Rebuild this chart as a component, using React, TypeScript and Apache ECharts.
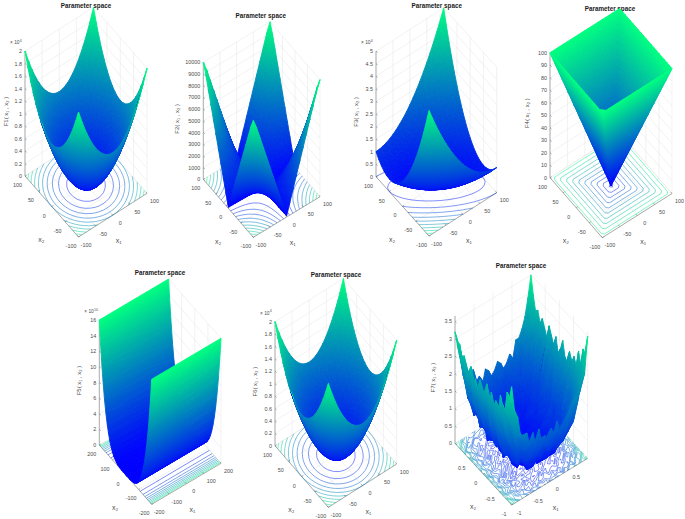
import React, { useEffect, useRef } from "react";
import * as echarts from "echarts";

// ---------- values ----------
const F1_QUADRANT = [
  [0, .01, .04, .09, .16, .25, .36, .49, .64, .81, 1],
  [.01, .02, .05, .10, .17, .26, .37, .50, .65, .82, 1.01],
  [.04, .05, .08, .13, .20, .29, .40, .53, .68, .85, 1.04],
  [.09, .10, .13, .18, .25, .34, .45, .58, .73, .90, 1.09],
  [.16, .17, .20, .25, .32, .41, .52, .65, .80, .97, 1.16],
  [.25, .26, .29, .34, .41, .50, .61, .74, .89, 1.06, 1.25],
  [.36, .37, .40, .45, .52, .61, .72, .85, 1.00, 1.17, 1.36],
  [.49, .50, .53, .58, .65, .74, .85, .98, 1.13, 1.30, 1.49],
  [.64, .65, .68, .73, .80, .89, 1.00, 1.13, 1.28, 1.45, 1.64],
  [.81, .82, .85, .90, .97, 1.06, 1.17, 1.30, 1.45, 1.62, 1.81],
  [1, 1.01, 1.04, 1.09, 1.16, 1.25, 1.36, 1.49, 1.64, 1.81, 2],
];
const F6_QUADRANT = F1_QUADRANT;
const F2_QUADRANT = [
  [0, 10, 20, 30, 40, 50, 60, 70, 80, 90, 100],
  [10, 120, 230, 340, 450, 560, 670, 780, 890, 1000, 1110],
  [20, 230, 440, 650, 860, 1070, 1280, 1490, 1700, 1910, 2120],
  [30, 340, 650, 960, 1270, 1580, 1890, 2200, 2510, 2820, 3130],
  [40, 450, 860, 1270, 1680, 2090, 2500, 2910, 3320, 3730, 4140],
  [50, 560, 1070, 1580, 2090, 2600, 3110, 3620, 4130, 4640, 5150],
  [60, 670, 1280, 1890, 2500, 3110, 3720, 4330, 4940, 5550, 6160],
  [70, 780, 1490, 2200, 2910, 3620, 4330, 5040, 5750, 6460, 7170],
  [80, 890, 1700, 2510, 3320, 4130, 4940, 5750, 6560, 7370, 8180],
  [90, 1000, 1910, 2820, 3730, 4640, 5550, 6460, 7370, 8280, 9190],
  [100, 1110, 2120, 3130, 4140, 5150, 6160, 7170, 8180, 9190, 10000],
];
const F4_QUADRANT = [
  [0, 10, 20, 30, 40, 50, 60, 70, 80, 90, 100],
  [10, 10, 20, 30, 40, 50, 60, 70, 80, 90, 100],
  [20, 20, 20, 30, 40, 50, 60, 70, 80, 90, 100],
  [30, 30, 30, 30, 40, 50, 60, 70, 80, 90, 100],
  [40, 40, 40, 40, 40, 50, 60, 70, 80, 90, 100],
  [50, 50, 50, 50, 50, 50, 60, 70, 80, 90, 100],
  [60, 60, 60, 60, 60, 60, 60, 70, 80, 90, 100],
  [70, 70, 70, 70, 70, 70, 70, 70, 80, 90, 100],
  [80, 80, 80, 80, 80, 80, 80, 80, 80, 90, 100],
  [90, 90, 90, 90, 90, 90, 90, 90, 90, 90, 100],
  [100, 100, 100, 100, 100, 100, 100, 100, 100, 100, 100],
];
// rows x2 = -100..0, columns x1 = -100..100; the other half repeats through the centre
const F3_HALF = [
  [5.00, 4.61, 4.24, 3.89, 3.56, 3.25, 2.96, 2.69, 2.44, 2.21, 2.00, 1.81, 1.64, 1.49, 1.36, 1.25, 1.16, 1.09, 1.04, 1.01, 1.00],
  [4.42, 4.05, 3.70, 3.37, 3.06, 2.77, 2.50, 2.25, 2.02, 1.81, 1.62, 1.45, 1.30, 1.17, 1.06, .97, .90, .85, .82, .81, .82],
  [3.88, 3.53, 3.20, 2.89, 2.60, 2.33, 2.08, 1.85, 1.64, 1.45, 1.28, 1.13, 1.00, .89, .80, .73, .68, .65, .64, .65, .68],
  [3.38, 3.05, 2.74, 2.45, 2.18, 1.93, 1.70, 1.49, 1.30, 1.13, .98, .85, .74, .65, .58, .53, .50, .49, .50, .53, .58],
  [2.92, 2.61, 2.32, 2.05, 1.80, 1.57, 1.36, 1.17, 1.00, .85, .72, .61, .52, .45, .40, .37, .36, .37, .40, .45, .52],
  [2.50, 2.21, 1.94, 1.69, 1.46, 1.25, 1.06, .89, .74, .61, .50, .41, .34, .29, .26, .25, .26, .29, .34, .41, .50],
  [2.12, 1.85, 1.60, 1.37, 1.16, .97, .80, .65, .52, .41, .32, .25, .20, .17, .16, .17, .20, .25, .32, .41, .52],
  [1.78, 1.53, 1.30, 1.09, .90, .73, .58, .45, .34, .25, .18, .13, .10, .09, .10, .13, .18, .25, .34, .45, .58],
  [1.48, 1.25, 1.04, .85, .68, .53, .40, .29, .20, .13, .08, .05, .04, .05, .08, .13, .20, .29, .40, .53, .68],
  [1.22, 1.01, .82, .65, .50, .37, .26, .17, .10, .05, .02, .01, .02, .05, .10, .17, .26, .37, .50, .65, .82],
  [1.00, .81, .64, .49, .36, .25, .16, .09, .04, .01, 0, .01, .04, .09, .16, .25, .36, .49, .64, .81, 1.00],
];
// F5 against |x2| = 0, 10, ... 200
const F5_PROFILE = [0, .0001, .0016, .0081, .0256, .0625, .1296, .2401, .4096, .6561, 1, 1.4641, 2.0736, 2.8561, 3.8416, 5.0625, 6.5536, 8.3521, 10.4976, 13.0321, 16];
// F7, in tenths, rows x1 = -1..1, columns x2 = -1..1
const F7_TENTHS = [
  [34,30,31,25,26,28,22,25,23,26,22,27,24,21,26,23,25,22,27,25,22,28,26,30,29,32],
  [26,27,22,22,17,19,22,16,19,17,20,15,18,21,16,19,17,20,16,19,22,17,22,22,27,28],
  [24,18,20,20,14,17,14,15,11,17,14,12,16,13,15,11,16,12,14,18,14,17,14,21,19,25],
  [18,19,14,16,12,15,12,8,12,9,13,10,8,12,14,9,11,13,8,11,13,11,16,13,18,20],
  [17,17,13,8,11,7,12,7,10,5,8,11,6,9,7,10,5,8,11,7,10,9,8,15,15,16],
  [18,12,15,9,6,10,8,5,8,10,4,7,9,5,8,6,10,4,7,10,6,10,9,9,17,17],
  [14,13,8,11,7,8,5,9,3,6,8,5,7,3,6,9,4,7,5,4,9,8,7,12,12,18],
  [17,9,10,6,10,5,7,2,7,3,5,8,2,6,4,3,7,5,2,7,5,9,8,9,13,14],
  [13,12,7,9,3,5,8,3,2,5,1,6,3,4,2,7,1,5,3,7,3,6,4,12,10,15],
  [17,9,10,4,6,7,3,4,1,3,6,2,5,1,3,1,4,2,6,3,5,3,8,8,13,12],
  [12,13,8,7,3,6,4,1,5,2,1,4,2,6,1,3,2,5,1,5,7,4,6,6,11,16],
  [14,10,6,8,4,4,7,2,1,4,2,1,3,1,5,2,1,3,4,2,4,7,5,9,8,15],
  [11,12,8,5,8,2,3,4,2,1,3,1,1,2,1,4,2,1,2,6,2,5,9,7,12,13],
  [15,8,9,9,3,4,3,1,3,2,1,2,1,1,3,1,2,4,1,3,5,3,6,10,8,14],
  [13,11,7,4,6,3,6,2,1,1,4,1,2,3,1,2,1,2,3,2,3,8,4,7,11,16],
  [16,9,10,6,4,5,2,3,4,2,1,3,1,2,1,1,4,1,2,6,2,4,7,6,10,15],
  [12,12,6,7,5,2,5,1,2,5,2,1,4,1,3,2,1,3,5,2,4,3,5,10,8,13],
  [14,8,11,5,3,6,3,6,1,3,1,4,2,5,1,3,6,1,2,5,2,7,6,7,13,14],
  [12,14,8,9,7,3,5,3,6,2,7,3,4,2,5,7,3,6,2,5,8,5,8,12,10,16],
  [17,11,11,6,10,6,8,3,5,8,4,7,3,8,4,3,7,5,6,5,8,5,11,10,14,14],
  [16,17,9,10,7,9,5,9,5,7,10,4,8,6,9,5,7,10,4,9,6,11,9,9,14,19],
  [20,12,14,10,13,7,9,5,10,7,5,9,6,10,7,11,5,8,10,7,10,9,14,13,12,19],
  [19,19,15,16,10,12,15,10,8,12,9,13,11,8,14,9,12,10,8,14,10,13,11,17,17,21],
  [24,19,21,14,17,14,13,16,14,11,15,12,17,13,11,16,12,15,13,12,17,14,18,18,23,24],
  [25,26,21,21,23,16,18,19,16,20,15,18,17,20,16,19,15,21,17,19,16,21,19,25,22,29],
  [35,29,30,24,28,23,25,23,25,21,22,26,23,21,25,22,24,26,22,24,26,24,27,26,30,35],
];

const TITLE = "Parameter space";
const TICKS_100 = [-100, -50, 0, 50, 100];
const TICKS_200 = [-200, -100, 0, 100, 200];
const TICKS_1 = [-1, -0.5, 0, 0.5];
const Z_TICKS_F1 = [0, 0.2, 0.4, 0.6, 0.8, 1, 1.2, 1.4, 1.6, 1.8, 2];
const Z_TICKS_F2 = [0, 1000, 2000, 3000, 4000, 5000, 6000, 7000, 8000, 9000, 10000];
const Z_TICKS_F3 = [0, 0.5, 1, 1.5, 2, 2.5, 3, 3.5, 4, 4.5, 5];
const Z_TICKS_F4 = [0, 10, 20, 30, 40, 50, 60, 70, 80, 90, 100];
const Z_TICKS_F5 = [0, 2, 4, 6, 8, 10, 12, 14, 16];
const Z_TICKS_F7 = [0, 0.5, 1, 1.5, 2, 2.5, 3, 3.5];
const LEVELS_F1 = [0.2, 0.4, 0.6, 0.8, 1, 1.2, 1.4, 1.6, 1.8];
const LEVELS_F2 = [1000, 2000, 3000, 4000, 5000, 6000, 7000, 8000, 9000];
const LEVELS_F3 = [0.5, 1, 1.5, 2, 2.5, 3, 3.5, 4, 4.5];
const LEVELS_F4 = [5, 15, 25, 35, 45, 55, 65, 75, 85, 95];
const LEVELS_F5 = [1.6, 3.2, 4.8, 6.4, 8, 9.6, 11.2, 12.8, 14.4];
const LEVELS_F7 = [0.15, 0.35, 0.55, 0.75, 0.95, 1.15, 1.35, 1.55, 1.75, 1.95, 2.15, 2.35, 2.55, 2.75, 2.95, 3.15];

// ---------- grids ----------
const range = (a: number, b: number, n: number) => Array.from({ length: n }, (_, i) => a + ((b - a) * i) / (n - 1));
const mirror = (q: number[][]) => {
  const r: number[][] = [];
  for (let i = -10; i <= 10; i++) {
    const row: number[] = [];
    for (let j = -10; j <= 10; j++) row.push(q[Math.abs(i)][Math.abs(j)]);
    r.push(row);
  }
  return r;
};
const pointFlip = (h: number[][]) => {
  const r = h.map((row) => row.slice());
  for (let i = h.length - 2; i >= 0; i--) r.push(h[i].slice().reverse());
  return r;
};
const transpose = (m: number[][]) => m[0].map((_, j) => m.map((row) => row[j]));
const profile = () => {
  const col: number[] = [];
  for (let k = -20; k <= 20; k++) col.push(F5_PROFILE[Math.abs(k)]);
  return [col, col];
};

type Pt = [number, number];
interface Panel {
  id: string; xs: number[]; ys: number[]; z: number[][]; levels: number[];
  xTicks: number[]; yTicks: number[]; zTicks: number[]; zTop: number; zColor: number;
  front: Pt; left: Pt; right: Pt; zH: number; title: Pt; nameX: number; exp: string;
}
const R100 = range(-100, 100, 21);
const PANELS: Panel[] = [
  { id: "F1", xs: R100, ys: R100, z: mirror(F1_QUADRANT), levels: LEVELS_F1, xTicks: TICKS_100, yTicks: TICKS_100, zTicks: Z_TICKS_F1, zTop: 2, zColor: 2,
    front: [78.5, 237], left: [25, 176], right: [147, 193.3], zH: 125, title: [86, 5], nameX: 5.5, exp: "4" },
  { id: "F2", xs: R100, ys: R100, z: mirror(F2_QUADRANT), levels: LEVELS_F2, xTicks: TICKS_100, yTicks: TICKS_100, zTicks: Z_TICKS_F2, zTop: 10000, zColor: 10000,
    front: [253.3, 237.3], left: [203.3, 179.3], right: [320, 196.7], zH: 117, title: [260.7, 15.7], nameX: 177, exp: "" },
  { id: "F3", xs: R100, ys: R100, z: transpose(pointFlip(F3_HALF)), levels: LEVELS_F3, xTicks: TICKS_100, yTicks: TICKS_100, zTicks: Z_TICKS_F3, zTop: 5, zColor: 5,
    front: [429, 236], left: [376, 176.7], right: [496.7, 192.7], zH: 125.6, title: [436.7, 5], nameX: 356, exp: "4" },
  { id: "F4", xs: R100, ys: R100, z: mirror(F4_QUADRANT), levels: LEVELS_F4, xTicks: TICKS_100, yTicks: TICKS_100, zTicks: Z_TICKS_F4, zTop: 100, zColor: 100,
    front: [602.3, 237.7], left: [550, 177.7], right: [672, 193.5], zH: 125, title: [610, 8], nameX: 527.3, exp: "" },
  { id: "F5", xs: [-200, 200], ys: range(-200, 200, 41), z: profile(), levels: LEVELS_F5, xTicks: TICKS_200, yTicks: TICKS_200, zTicks: Z_TICKS_F5, zTop: 16, zColor: 16,
    front: [151.7, 504.3], left: [99.3, 445], right: [221, 463.3], zH: 125, title: [160, 272], nameX: 79.3, exp: "10" },
  { id: "F6", xs: R100, ys: R100, z: mirror(F6_QUADRANT), levels: LEVELS_F1, xTicks: TICKS_100, yTicks: TICKS_100, zTicks: Z_TICKS_F1, zTop: 2, zColor: 2,
    front: [328.3, 507.3], left: [275, 445.7], right: [396.7, 464], zH: 124, title: [336, 274], nameX: 254.7, exp: "4" },
  { id: "F7", xs: range(-1, 1, 26), ys: range(-1, 1, 26), z: F7_TENTHS.map((r) => r.map((v) => v / 10)), levels: LEVELS_F7, xTicks: TICKS_1, yTicks: TICKS_1, zTicks: Z_TICKS_F7, zTop: 3.66, zColor: 3.7,
    front: [511.7, 505], left: [455, 443.3], right: [587.7, 458.3], zH: 127.4, title: [521, 265], nameX: 433.3, exp: "" },
];

// ---------- projection and colour (MATLAB "winter") ----------
const winter = (t: number) => {
  const c = Math.max(0, Math.min(1, t));
  return `rgb(0,${Math.round(255 * c)},${Math.round(255 * (1 - c / 2))})`;
};
const FONT = '"Liberation Sans", "DejaVu Sans", Arial, sans-serif';
const makeProject = (p: Panel) => {
  const x0 = p.xs[0], x1 = p.xs[p.xs.length - 1], y0 = p.ys[0], y1 = p.ys[p.ys.length - 1];
  return (a: number, b: number, z: number): Pt => {
    const u = (a - x0) / (x1 - x0), v = (b - y0) / (y1 - y0);
    return [
      p.front[0] + u * (p.right[0] - p.front[0]) + v * (p.left[0] - p.front[0]),
      p.front[1] + u * (p.right[1] - p.front[1]) + v * (p.left[1] - p.front[1]) - (z / p.zTop) * p.zH,
    ];
  };
};

const surfaceSeries = (p: Panel) => {
  const pr = makeProject(p);
  const tris: number[][][] = [];
  const v = (i: number, j: number) => [p.xs[i], p.ys[j], p.z[i][j]];
  for (let i = p.xs.length - 2; i >= 0; i--) {
    for (let j = p.ys.length - 2; j >= 0; j--) {
      tris.push([v(i + 1, j + 1), v(i + 1, j), v(i, j + 1)]);
      tris.push([v(i + 1, j), v(i, j + 1), v(i, j)]);
    }
  }
  const stops = [{ offset: 0, color: winter(0) }, { offset: 1, color: winter(1) }];
  return {
    type: "custom", name: p.id, coordinateSystem: "cartesian2d", silent: true, progressive: 0,
    data: tris.map(() => [0, 0]),
    renderItem: (params: any, api: any) => {
      const t = tris[params.dataIndex];
      const pts = t.map((q) => api.coord(pr(q[0], q[1], q[2])));
      const c = t.map((q) => q[2] / p.zColor);
      const dx1 = pts[1][0] - pts[0][0], dy1 = pts[1][1] - pts[0][1];
      const dx2 = pts[2][0] - pts[0][0], dy2 = pts[2][1] - pts[0][1];
      const det = dx1 * dy2 - dx2 * dy1;
      const d1 = c[1] - c[0], d2 = c[2] - c[0];
      let fill: any = winter((c[0] + c[1] + c[2]) / 3);
      if (Math.abs(det) > 1e-3) {
        const gx = (d1 * dy2 - d2 * dy1) / det, gy = (dx1 * d2 - dx2 * d1) / det;
        const g2 = gx * gx + gy * gy;
        if (g2 > 1e-9) {
          const ax = pts[0][0] - (gx * c[0]) / g2, ay = pts[0][1] - (gy * c[0]) / g2;
          fill = new echarts.graphic.LinearGradient(ax, ay, ax + gx / g2, ay + gy / g2, stops, true);
        }
      }
      return { type: "polygon", shape: { points: pts }, style: { fill, stroke: fill, lineWidth: 0.9, lineJoin: "round" } };
    },
  };
};

const contourPath = (p: Panel, level: number, api: any) => {
  const pr = makeProject(p);
  let d = "";
  const cross = (a: number, b: number) => (level - a) / (b - a);
  for (let i = 0; i < p.xs.length - 1; i++) {
    for (let j = 0; j < p.ys.length - 1; j++) {
      const a = p.z[i][j], b = p.z[i + 1][j], c = p.z[i + 1][j + 1], e = p.z[i][j + 1];
      const x0 = p.xs[i], x1 = p.xs[i + 1], y0 = p.ys[j], y1 = p.ys[j + 1];
      const hit: Pt[] = [];
      if (a >= level !== b >= level) hit.push([x0 + cross(a, b) * (x1 - x0), y0]);
      if (b >= level !== c >= level) hit.push([x1, y0 + cross(b, c) * (y1 - y0)]);
      if (c >= level !== e >= level) hit.push([x1 + cross(c, e) * (x0 - x1), y1]);
      if (e >= level !== a >= level) hit.push([x0, y1 + cross(e, a) * (y0 - y1)]);
      for (let k = 0; k + 1 < hit.length; k += 2) {
        const s = api.coord(pr(hit[k][0], hit[k][1], 0));
        const t = api.coord(pr(hit[k + 1][0], hit[k + 1][1], 0));
        d += `M${s[0].toFixed(2)} ${s[1].toFixed(2)}L${t[0].toFixed(2)} ${t[1].toFixed(2)}`;
      }
    }
  }
  return d || "M0 0";
};

const contourSeries = (p: Panel) => ({
  type: "custom", name: p.id + " contours", coordinateSystem: "cartesian2d", silent: true, progressive: 0,
  data: p.levels.map(() => [0, 0]),
  renderItem: (params: any, api: any) => {
    const level = p.levels[params.dataIndex];
    return {
      type: "path", shape: { pathData: contourPath(p, level, api) },
      style: { fill: "none", stroke: winter(level / p.zColor), lineWidth: 0.5 },
    };
  },
});

const frameSeries = (p: Panel) => {
  const pr = makeProject(p);
  const xa = p.xs[0], xb = p.xs[p.xs.length - 1], ya = p.ys[0], yb = p.ys[p.ys.length - 1];
  return {
    type: "custom", name: p.id + " axes", coordinateSystem: "cartesian2d", silent: true, progressive: 0,
    data: [[0, 0]],
    renderItem: (_: any, api: any) => {
      const P = (a: number, b: number, z: number) => api.coord(pr(a, b, z));
      const seg = (s: number[], t: number[]) => `M${s[0].toFixed(2)} ${s[1].toFixed(2)}L${t[0].toFixed(2)} ${t[1].toFixed(2)}`;
      let grid = "", axes = "";
      const children: any[] = [];
      const txt = (text: string, x: number, y: number, fontSize: number, extra: any = {}, el: any = {}) =>
        children.push({ type: "text", x, y, ...el, style: { text, fontSize, fontFamily: FONT, fill: "#4d4d4d", align: "center", verticalAlign: "middle", ...extra } });
      for (const z of p.zTicks) {
        grid += seg(P(xa, yb, z), P(xb, yb, z)) + seg(P(xb, yb, z), P(xb, ya, z));
        const s = P(xa, yb, z);
        axes += seg(s, [s[0] + 1.6, s[1] + 1.3]);
        txt(String(z), s[0] - 3, s[1], 5.4, { align: "right" });
      }
      for (const t of p.xTicks) {
        grid += seg(P(t, yb, 0), P(t, yb, p.zTop)) + seg(P(t, ya, 0), P(t, yb, 0));
        const s = P(t, ya, 0);
        axes += seg(s, [s[0] - 1.2, s[1] - 1.5]);
        txt(String(t), s[0] + 7.5, s[1] + 7.5, 5.4);
      }
      for (const t of p.yTicks) {
        grid += seg(P(xb, t, 0), P(xb, t, p.zTop)) + seg(P(xa, t, 0), P(xb, t, 0));
        const s = P(xa, t, 0);
        axes += seg(s, [s[0] + 1.6, s[1] - 1]);
        txt(String(t), s[0] - 7.5, s[1] + 9, 5.4);
      }
      axes += seg(P(xa, yb, 0), P(xa, yb, p.zTop)) + seg(P(xa, yb, 0), P(xa, ya, 0)) + seg(P(xa, ya, 0), P(xb, ya, 0));
      const midY = P(xa, (ya + yb) / 2, 0), midX = P((xa + xb) / 2, ya, 0);
      txt("x₂", midY[0] - 10.3, midY[1] + 32.7, 7);
      txt("x₁", midX[0] + 6, midX[1] + 25.7, 7);
      const top = P(xa, yb, p.zTop), bot = P(xa, yb, 0);
      txt(`${p.id}( x₁ , x₂ )`, api.coord([p.nameX, 0])[0], (top[1] + bot[1]) / 2 - 2, 6, {}, { rotation: Math.PI / 2 });
      if (p.exp) {
        txt("× 10", top[0] - 5.5, top[1] - 8.5, 4.8, { align: "right" });
        txt(p.exp, top[0] - 5.2, top[1] - 10.5, 3.6, { align: "left" });
      }
      const tp = api.coord(p.title);
      txt(TITLE, tp[0], tp[1], 6.3, { fontWeight: "bold", fill: "#1a1a1a" });
      return {
        type: "group",
        children: [
          { type: "path", shape: { pathData: grid }, style: { fill: "none", stroke: "#e4e4e4", lineWidth: 0.5 } },
          { type: "path", shape: { pathData: axes }, style: { fill: "none", stroke: "#7a7a7a", lineWidth: 0.6 } },
          ...children,
        ],
      };
    },
  };
};

export default function App() {
  const ref = useRef<HTMLDivElement>(null);
  useEffect(() => {
    document.body.style.margin = "0";
    const chart = echarts.init(ref.current!, undefined, { renderer: "svg" });
    chart.setOption({
      animation: false,
      backgroundColor: "#ffffff",
      grid: { left: 0, right: 0, top: 0, bottom: 0 },
      xAxis: { type: "value", min: 0, max: 685, show: false },
      yAxis: { type: "value", min: 0, max: 519, inverse: true, show: false },
      series: PANELS.flatMap((p) => [frameSeries(p), contourSeries(p), surfaceSeries(p)]),
    });
    return () => chart.dispose();
  }, []);
  return <div ref={ref} style={{ width: 685, height: 519 }} />;
}
